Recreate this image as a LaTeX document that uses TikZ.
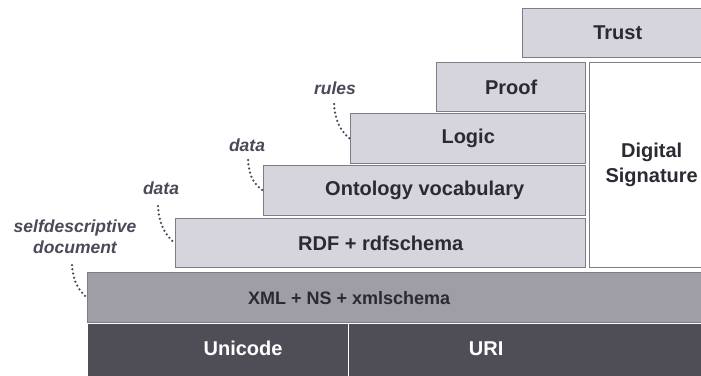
\documentclass[tikz,border=0pt]{standalone}
\usepackage{fontspec}
\setmainfont{Liberation Sans}
\definecolor{lightfill}{HTML}{D6D5DD}
\definecolor{xmlfill}{HTML}{9F9DA6}
\definecolor{basefill}{HTML}{4F4D56}
\definecolor{edgegray}{HTML}{7E7D86}
\definecolor{ink}{HTML}{2B2A33}
\definecolor{noteink}{HTML}{4A4A58}
\tikzset{
  layer/.style={draw=edgegray, line width=1.4pt, fill=lightfill, anchor=north west,
    inner sep=0pt, text=ink, font=\fontsize{20}{24}\selectfont\bfseries},
  xmllayer/.style={layer, fill=xmlfill},
  baselayer/.style={draw=white, line width=1.2pt, fill=basefill, anchor=north west, inner sep=0pt},
  sigbox/.style={layer, fill=white, align=center, font=\fontsize{20}{25}\selectfont\bfseries},
  basetext/.style={text=white, font=\fontsize{20}{24}\selectfont\bfseries},
  xmltext/.style={text=ink, font=\fontsize{18}{22}\selectfont\bfseries},
  note/.style={text=noteink, align=center, font=\fontsize{17.5}{21}\selectfont\bfseries\itshape},
  dotline/.style={draw=noteink, line width=2.5pt, line cap=round, dash pattern=on 0pt off 4.3pt}
}
\begin{document}
\begin{tikzpicture}[x=1pt,y=-1pt]
\useasboundingbox (0,0) rectangle (701,375);
\clip (0,0) rectangle (701,375);

% stacked layers
\node[layer, minimum width=190pt, minimum height=49pt] (trust) at (522,8) {Trust};
\node[layer, minimum width=149pt, minimum height=49pt] (proof) at (436,62) {Proof};
\node[sigbox, minimum width=124pt, minimum height=205pt] (dsig) at (589,62) {Digital\\Signature};
\node[layer, minimum width=235pt, minimum height=50pt] (logic) at (350,113) {Logic};
\node[layer, minimum width=322pt, minimum height=50pt] (onto) at (263,165) {Ontology vocabulary};
\node[layer, minimum width=410pt, minimum height=49pt] (rdf) at (175,218) {RDF + rdfschema};
\node[xmllayer, minimum width=625pt, minimum height=50pt] (xml) at (87,272) {};
\node[xmltext] at ([xshift=-51pt]xml.center) {XML + NS + xmlschema};

% base row
\node[baselayer, minimum width=261pt, minimum height=56pt] (unicode) at (87,323) {};
\node[baselayer, minimum width=365pt, minimum height=56pt] (uri) at (348,323) {};
\node[basetext] at ([xshift=25pt,yshift=3pt]unicode.center) {Unicode};
\node[basetext] at ([xshift=-45pt,yshift=3pt]uri.center) {URI};

% side notes
\node[note] (rules) at (335,88) {rules};
\node[note] (dataA) at (247,145) {data};
\node[note] (dataB) at (161,188) {data};
\node[note] (selfdoc) at (75,237) {selfdescriptive\\document};

% dotted leaders from notes to layers
\draw[dotline] ([xshift=-1pt,yshift=-16pt]rules.center) .. controls +(1,17) and +(-9,-7) .. (logic.west);
\draw[dotline] ([xshift=1pt,yshift=-15pt]dataA.center) .. controls +(1,17) and +(-9,-7) .. (onto.west);
\draw[dotline] ([xshift=-3pt,yshift=-18pt]dataB.center) .. controls +(1,19) and +(-9,-7) .. (rdf.west);
\draw[dotline] ([xshift=-3pt,yshift=-28pt]selfdoc.center) .. controls +(1,17) and +(-8,-7) .. (xml.west);
\end{tikzpicture}
\end{document}
